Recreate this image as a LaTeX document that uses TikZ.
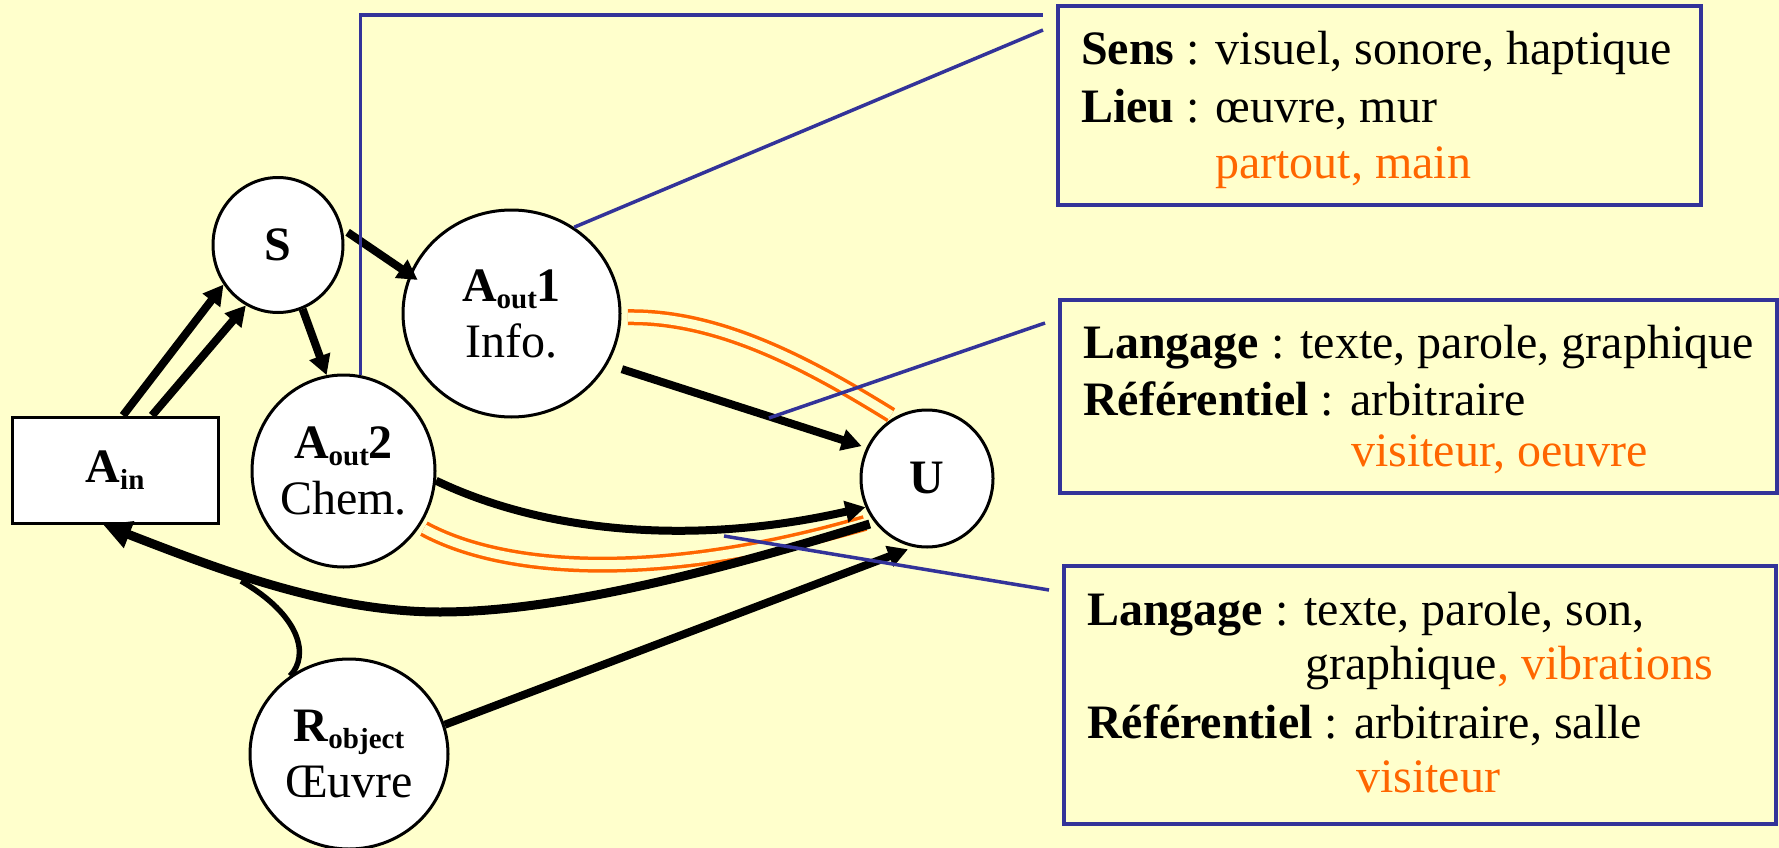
\documentclass[tikz,border=0pt]{standalone}
\usepackage{fontspec}
\setmainfont{Liberation Serif}
\usetikzlibrary{arrows.meta,shapes.geometric}
\definecolor{bgyellow}{RGB}{255,255,204}
\definecolor{linkblue}{RGB}{51,51,153}
\definecolor{pathorange}{RGB}{255,102,0}
% lowered, smaller text for the subscripts of the node names
\newcommand{\lowsub}[1]{\raisebox{-7pt}{\fontsize{29}{29}\selectfont #1}}

\begin{document}
\begin{tikzpicture}[x=1pt,y=-1pt,
  bigfont/.style={font=\fontsize{48}{56}\selectfont},
  state/.style={ellipse, draw=black, line width=3pt, fill=white, inner sep=0pt,
    align=center, bigfont},
  flow/.style={line width=8pt, draw=black, -{Triangle[length=20pt,width=21pt]}},
  backflow/.style={line width=9pt, draw=black, -{Triangle[length=28pt,width=27pt]}},
  pairline/.style={draw=pathorange, line width=3.5pt, double=bgyellow, double distance=9pt},
  note/.style={draw=linkblue, line width=3.5pt},
  infobox/.style={draw=linkblue, line width=4pt, inner sep=0pt},
  txt/.style={anchor=base west, inner sep=0pt, bigfont}]

% page
\fill[bgyellow] (0,0) rectangle (1779,848);
\useasboundingbox (0,0) rectangle (1779,848);

% system parts
\node[draw=black, line width=3pt, fill=white, minimum width=206pt, minimum height=106pt,
  inner sep=0pt, bigfont] (ain) at (115,470) {\textbf{A\lowsub{in}}};
\node[state, minimum width=130pt, minimum height=135pt] (s) at (278,245) {\textbf{S}};
\node[state, minimum width=217pt, minimum height=207pt] (aout1) at (511.5,313.5)
  {\textbf{A\lowsub{out}1}\\Info.};
\node[state, minimum width=183pt, minimum height=192pt] (aout2) at (343.5,471)
  {\textbf{A\lowsub{out}2}\\Chem.};
\node[state, minimum width=132pt, minimum height=137pt] (u) at (927,478.5) {\textbf{U}};
\node[state, minimum width=198pt, minimum height=190pt] (rob) at (349,754)
  {\textbf{R\lowsub{object}}\\Œuvre};

% description boxes
\node[infobox, minimum width=643pt, minimum height=199pt] (box1) at (1379.5,105.5) {};
\node[infobox, minimum width=717pt, minimum height=193pt] (box2) at (1418.5,396.5) {};
\node[infobox, minimum width=711.5pt, minimum height=258pt] (box3) at (1420,695) {};

\node[txt] (t1a) at (1081,65) {\textbf{Sens} : visuel, sonore, haptique};
\node[txt] (t1b) at (1081,122) {\textbf{Lieu} : œuvre, mur};
\node[txt, text=pathorange] (t1c) at (1215,178) {partout, main};
\node[txt] (t2a) at (1083,358) {\textbf{Langage} : texte, parole, graphique};
\node[txt] (t2b) at (1083,415) {\textbf{Référentiel} : arbitraire};
\node[txt, text=pathorange] (t2c) at (1351,466) {visiteur, oeuvre};
\node[txt] (t3a) at (1087,625) {\textbf{Langage} : texte, parole, son,};
\node[txt] (t3b) at (1305,679) {graphique\textcolor{pathorange}{, vibrations}};
\node[txt] (t3c) at (1087,738) {\textbf{Référentiel} : arbitraire, salle};
\node[txt, text=pathorange] (t3d) at (1356,792) {visiteur};

% free ends of the callout lines and the junction on the return path
\coordinate (b1a) at (1043,15);
\coordinate (b1b) at (1043,30);
\coordinate (c3) at (769,418);
\coordinate (b2a) at (1045,323);
\coordinate (c4) at (724,536);
\coordinate (b3a) at (1049,590);
\coordinate (merge) at (241,581);

% double orange paths towards the user
\draw[pairline, shorten <=6.5pt, shorten >=4pt]
  (aout1.-2.3) .. controls (720,316) and (810,365) .. (u.118);
\draw[pairline, shorten <=4.5pt, shorten >=8.5pt]
  (aout2.-36.9) .. controls (500,570) and (650,585) .. (u.218);

% black flows
\draw[flow] ([xshift=8pt]ain.north) -- (s.216.7);
\draw[flow] ([xshift=37pt]ain.north) -- (s.242.2);
\draw[flow, shorten <=6pt, shorten >=-10pt] (s.14.6) -- (aout1.159.5);
\draw[flow] (s.291.8) -- (aout2.100.7);
\draw[flow, shorten <=15pt, shorten >=5pt] (aout1.332.9) -- (u.153.4);
\draw[flow] (aout2.-6.8) .. controls (550,535) and (700,545) .. (u.205.4);
\draw[backflow, shorten <=5pt]
  (u.220.2) .. controls (720,570) and (560,612) .. (440,612)
  .. controls (330,612) and (220,570) .. ([xshift=-12pt]ain.south);
\draw[flow, shorten >=6pt] (rob.17) -- (u.259.2);
\draw[line width=5.5pt] (rob.127.7) .. controls (310,655) and (300,615) .. (merge);

% callout lines
\draw[note] (aout2.80.7) |- (b1a);
\draw[note] (aout1.54.1) -- (b1b);
\draw[note] (c3) -- (b2a);
\draw[note] (c4) -- (b3a);
\end{tikzpicture}
\end{document}
